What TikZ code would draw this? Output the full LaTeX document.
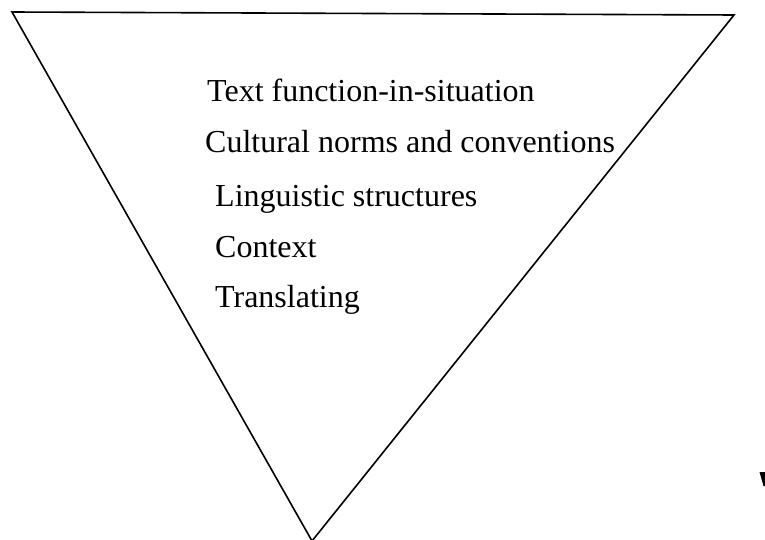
\documentclass[tikz,border=0pt]{standalone}
\usepackage{fontspec}
\setmainfont{Liberation Serif}

\begin{document}
\begin{tikzpicture}[x=1pt,y=-1pt]
   \tikzstyle{every node}=[anchor=base west, inner sep=0pt, font=\fontsize{32}{38}\selectfont]
   \tikzstyle{funnel}=[line width=1.6pt, line join=miter]

\useasboundingbox (0,0) rectangle (765,540);

% the inverted triangle
\coordinate (tl) at (12,12);
\coordinate (tr) at (734,15);
\coordinate (apex) at (312,541);
\draw[funnel] (tl) -- (tr) -- (apex) -- cycle;

% levels, top to bottom
\node (func)  at (207,102) {Text function-in-situation};
\node (norms) at (205,153) {Cultural norms and conventions};
\node (ling)  at (215,207) {Linguistic structures};
\node (ctx)   at (215,257) {Context};
\node (trans) at (215,307) {Translating};

% clipped mark at the right edge
\fill (759.5,472) -- (765,472) -- (765,486) -- (763.5,486) -- cycle;

\end{tikzpicture}
\end{document}
